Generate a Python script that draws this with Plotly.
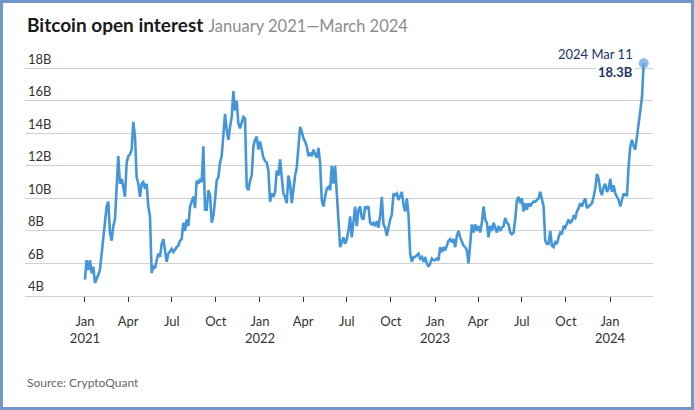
import pandas as pd
import plotly.graph_objects as go

# Bitcoin open interest (billions USD), Jan 1 2021 -> Mar 11 2024
oi_billions = [
    5.0, 6.2, 5.6, 6.2, 5.4, 5.8, 4.8, 5.0, 5.3, 5.6,
    6.6, 7.9, 8.5, 9.5, 9.8, 7.9, 7.4, 8.3, 8.7, 10.5,
    12.6, 10.9, 11.2, 10.7, 10.1, 12.2, 12.6, 12.7, 13.0, 14.7,
    13.8, 11.3, 10.9, 10.1, 10.9, 11.0, 10.6, 10.9, 9.5, 8.9,
    5.4, 5.8, 5.7, 6.2, 6.6, 6.4, 7.2, 7.5, 6.8, 6.1,
    6.6, 6.8, 6.9, 6.7, 6.9, 7.0, 7.1, 7.4, 7.5, 8.5,
    8.0, 8.7, 8.3, 9.5, 9.8, 10.1, 9.4, 11.1, 10.9, 11.2,
    11.0, 13.2, 9.3, 9.3, 10.5, 10.2, 8.5, 8.9, 9.9, 11.1,
    11.3, 12.2, 12.6, 13.8, 15.2, 14.2, 13.6, 14.4, 15.0, 16.6,
    15.4, 16.0, 14.6, 14.3, 14.6, 15.0, 14.9, 10.7, 10.5, 11.1,
    11.4, 13.2, 13.6, 13.8, 13.0, 13.5, 13.0, 12.5, 12.3, 12.2,
    11.7, 9.8, 10.3, 10.1, 10.4, 11.7, 11.4, 12.4, 11.3, 10.3,
    10.1, 9.7, 11.4, 10.9, 9.7, 10.7, 11.4, 11.9, 13.0, 14.4,
    14.1, 13.7, 13.5, 13.2, 12.6, 12.8, 12.6, 13.0, 12.7, 12.5,
    13.1, 12.2, 9.9, 9.5, 10.1, 10.6, 10.7, 10.5, 12.0, 10.9,
    12.0, 10.3, 8.0, 7.0, 7.3, 7.6, 7.2, 7.5, 8.0, 8.9,
    7.6, 8.5, 9.5, 8.3, 9.3, 9.5, 8.8, 8.7, 9.5, 9.4,
    9.5, 8.5, 8.4, 8.5, 8.3, 8.6, 8.2, 8.9, 10.1, 8.4,
    8.2, 7.7, 8.3, 8.7, 9.0, 10.3, 10.2, 10.3, 9.9, 10.2,
    10.4, 9.6, 9.2, 10.0, 9.0, 6.6, 6.1, 6.4, 6.4, 6.5,
    6.6, 6.3, 6.4, 6.1, 6.4, 6.0, 5.8, 6.0, 6.3, 6.2,
    6.2, 6.3, 6.2, 7.0, 6.7, 7.0, 6.8, 7.1, 7.4, 7.5,
    7.3, 7.5, 7.0, 7.7, 8.0, 7.6, 7.3, 7.1, 7.0, 6.8,
    6.0, 7.4, 8.4, 7.9, 8.4, 8.0, 8.3, 7.9, 8.5, 9.5,
    8.7, 8.5, 7.6, 8.3, 8.0, 8.5, 8.2, 7.9, 8.3, 8.0,
    8.2, 8.3, 8.8, 8.5, 8.4, 7.9, 7.8, 7.9, 8.7, 9.9,
    10.1, 9.7, 10.0, 9.2, 9.7, 9.3, 9.7, 9.5, 9.7, 9.8,
    9.8, 9.9, 10.0, 10.4, 9.9, 9.5, 7.4, 7.2, 7.2, 8.0,
    7.1, 7.0, 7.3, 7.2, 7.6, 7.9, 7.8, 8.3, 8.2, 8.4,
    8.7, 8.5, 8.6, 8.9, 8.8, 9.2, 9.4, 9.7, 9.5, 9.8,
    10.0, 9.4, 9.5, 9.6, 9.7, 10.1, 10.6, 11.5, 11.2, 10.5,
    10.2, 10.7, 10.9, 10.4, 10.6, 11.2, 10.4, 10.8, 10.3, 10.1,
    9.9, 9.5, 10.0, 10.3, 10.2, 10.2, 12.0, 13.2, 13.6, 13.2,
    13.0, 13.8, 14.3, 15.3, 16.2, 18.3,
]
start_date = "2021-01-01"
end_date = "2024-03-11"
dates = pd.date_range(start_date, end_date, periods=len(oi_billions))

x_tick_dates = ["2021-01-01", "2021-04-01", "2021-07-01", "2021-10-01",
                "2022-01-01", "2022-04-01", "2022-07-01", "2022-10-01",
                "2023-01-01", "2023-04-01", "2023-07-01", "2023-10-01",
                "2024-01-01"]
x_tick_labels = ["Jan<br>2021", "Apr", "Jul", "Oct",
                 "Jan<br>2022", "Apr", "Jul", "Oct",
                 "Jan<br>2023", "Apr", "Jul", "Oct",
                 "Jan<br>2024"]
y_tick_vals = [4, 6, 8, 10, 12, 14, 16, 18]
y_tick_labels = ["4B", "6B", "8B", "10B", "12B", "14B", "16B", "18B"]

title_main = "Bitcoin open interest"
title_sub = "January 2021\u2014March 2024"
source_text = "Source: CryptoQuant"

W, H = 694, 410
FONT = "Lato"
LINE = "#4596d8"

# vertical scale: 4B gridline at y=296 px, 16.27 px per billion
Y_MIN, Y_MAX = 4, 19.2
px_per_b = 16.27
top_px = 296 - (Y_MAX - Y_MIN) * px_per_b

fig = go.Figure()
fig.add_trace(go.Scatter(
    x=dates, y=oi_billions, mode="lines",
    line=dict(color=LINE, width=2.6), hoverinfo="skip", showlegend=False,
))
fig.add_trace(go.Scatter(
    x=[dates[-1]], y=[oi_billions[-1]], mode="markers",
    marker=dict(color="rgba(100,165,225,0.75)", size=10),
    cliponaxis=False, hoverinfo="skip", showlegend=False,
))

last_label = dates[-1].strftime("%Y %b ") + str(dates[-1].day)
fig.add_annotation(x=dates[-1], y=oi_billions[-1], xref="x", yref="y",
                   text=last_label, showarrow=False, xanchor="right", yanchor="middle",
                   xshift=-9, yshift=9, font=dict(family=FONT, size=13, color="#1c3566"))
fig.add_annotation(x=dates[-1], y=oi_billions[-1], xref="x", yref="y",
                   text="<b>%.1fB</b>" % oi_billions[-1], showarrow=False,
                   xanchor="right", yanchor="middle", xshift=-9, yshift=-9,
                   bgcolor="white", borderpad=1,
                   font=dict(family=FONT, size=13, color="#1c3566"))

fig.add_annotation(x=25 / W, y=1 - 24 / H, xref="paper", yref="paper",
                   text="<b>%s</b> <span style='color:#8c8c8c;font-size:16.5px'>%s</span>" % (title_main, title_sub),
                   showarrow=False, xanchor="left", yanchor="middle",
                   font=dict(family=FONT, size=19, color="#1a1a1a"))
fig.add_annotation(x=25 / W, y=1 - 382 / H, xref="paper", yref="paper",
                   text=source_text, showarrow=False, xanchor="left", yanchor="middle",
                   font=dict(family=FONT, size=12, color="#666666"))

fig.add_shape(type="rect", xref="paper", yref="paper", x0=0, x1=1, y0=0, y1=1,
              line=dict(color="#7396c9", width=6), layer="above")

fig.update_layout(
    width=W, height=H,
    margin=dict(l=0, r=0, t=0, b=0),
    paper_bgcolor="white", plot_bgcolor="white",
    font=dict(family=FONT, size=13, color="#333333"),
    xaxis=dict(
        domain=[25 / W, 653 / W],
        range=["2020-08-29", "2024-03-30 12:00"],
        tickmode="array", tickvals=x_tick_dates, ticktext=x_tick_labels,
        showgrid=False, zeroline=False,
        showline=True, linecolor="#d0d0d0", linewidth=1,
        ticks="outside", ticklen=5, tickcolor="#333333", tickwidth=1,
        ticklabelstandoff=8,
        tickfont=dict(family=FONT, size=13, color="#333333"),
    ),
    yaxis=dict(
        domain=[1 - 296 / H, 1 - top_px / H],
        range=[Y_MIN, Y_MAX],
        tickmode="array", tickvals=y_tick_vals, ticktext=y_tick_labels,
        showgrid=True, gridcolor="#d0d0d0", gridwidth=1,
        zeroline=False, showline=False, ticks="",
        ticklabelposition="inside top",
        tickfont=dict(family=FONT, size=13, color="#333333"),
    ),
)

fig.write_html("out.html")
